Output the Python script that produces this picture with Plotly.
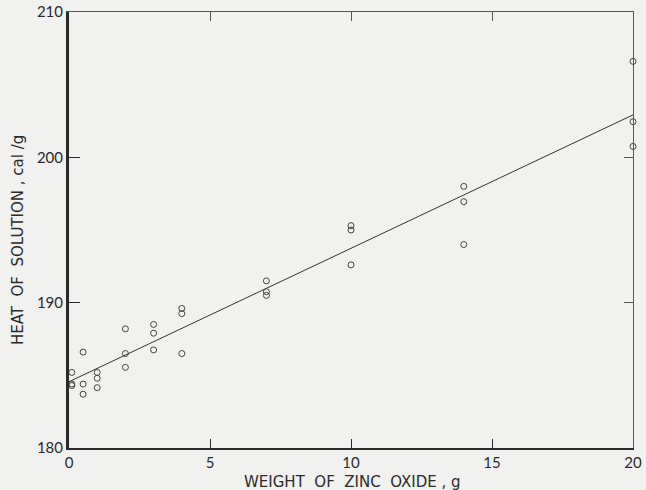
import plotly.graph_objects as go

# Measured data (weight of ZnO, g ; heat of solution, cal/g)
weight = [0.1, 0.1, 0.1,
          0.5, 0.5, 0.5,
          1, 1, 1,
          2, 2, 2,
          3, 3, 3,
          4, 4, 4,
          7, 7, 7,
          10, 10, 10,
          14, 14, 14,
          20, 20, 20]
heat = [185.2, 184.4, 184.3,
        186.6, 184.4, 183.7,
        185.2, 184.8, 184.15,
        188.2, 186.5, 185.55,
        188.5, 187.9, 186.75,
        189.6, 189.25, 186.5,
        191.5, 190.75, 190.5,
        195.3, 195.0, 192.6,
        198.0, 196.95, 194.0,
        206.6, 202.45, 200.75]

# Fitted straight line endpoints
fit_x = [0, 20]
fit_y = [184.56, 202.92]

x_ticks = [0, 5, 10, 15, 20]
x_ticklabels = ["0", "5", "10", "15", "20"]
y_ticks = [180, 190, 200, 210]
y_ticklabels = ["180", "190", "200", "210"]

x_title = "WEIGHT\u00a0 OF\u00a0 ZINC\u00a0 OXIDE , g"
y_title = "HEAT\u00a0 OF\u00a0 SOLUTION , cal /g"

ink = "#2a2a2a"
bg = "#f1f1ef"
font_family = "DejaVu Sans, sans-serif"
tick_font = dict(size=15, family="Lato, sans-serif", color=ink)

fig = go.Figure()
fig.add_trace(go.Scatter(x=fit_x, y=fit_y, mode="lines",
                         line=dict(color="#333333", width=1),
                         showlegend=False, hoverinfo="skip"))
fig.add_trace(go.Scatter(x=weight, y=heat, mode="markers",
                         marker=dict(symbol="circle-open", size=6,
                                     color="#444444", line=dict(width=1)),
                         showlegend=False, cliponaxis=False))
# invisible trace to activate the secondary (top/right) axes
fig.add_trace(go.Scatter(x=[0], y=[180], xaxis="x2", yaxis="y2",
                         mode="markers", marker=dict(opacity=0),
                         showlegend=False, hoverinfo="skip"))

fig.update_layout(
    width=646, height=490,
    margin=dict(l=69, r=13, t=12, b=42),
    paper_bgcolor=bg, plot_bgcolor=bg,
    font=dict(family=font_family, color=ink, size=15),
    xaxis=dict(range=[0, 20], tickvals=x_ticks, ticktext=x_ticklabels,
               automargin=False,
               showgrid=False, zeroline=False, showline=True,
               linecolor=ink, linewidth=2, ticks="inside", ticklen=9,
               tickwidth=1, tickcolor=ink, tickfont=tick_font),
    yaxis=dict(range=[180, 210], tickvals=y_ticks, ticktext=y_ticklabels,
               automargin=False,
               showgrid=False, zeroline=False, showline=True,
               linecolor=ink, linewidth=3, ticks="inside", ticklen=11,
               tickwidth=1, tickcolor=ink, tickfont=tick_font),
    xaxis2=dict(range=[0, 20], overlaying="x", side="top", automargin=False,
                tickvals=x_ticks, showticklabels=False, showgrid=False,
                zeroline=False, showline=True, linecolor="#555555",
                linewidth=1, ticks="inside", ticklen=9, tickwidth=1,
                tickcolor="#555555"),
    yaxis2=dict(range=[180, 210], overlaying="y", side="right",
                automargin=False,
                tickvals=y_ticks, showticklabels=False, showgrid=False,
                zeroline=False, showline=True, linecolor="#555555",
                linewidth=1, ticks="inside", ticklen=9, tickwidth=1,
                tickcolor="#555555"),
    annotations=[
        dict(text=x_title, xref="paper", yref="paper", x=0.502, y=0,
             yshift=-34, showarrow=False, xanchor="center", yanchor="middle",
             font=dict(size=15, family=font_family, color=ink)),
        dict(text=y_title, xref="paper", yref="paper", x=0, y=0.477,
             xshift=-51, showarrow=False, textangle=-90,
             xanchor="center", yanchor="middle",
             font=dict(size=15, family=font_family, color=ink)),
    ],
)

fig.write_html("out.html",
               config={"displayModeBar": False},
               post_script="document.body.style.margin='0px';"
                           "document.body.style.overflow='hidden';")
